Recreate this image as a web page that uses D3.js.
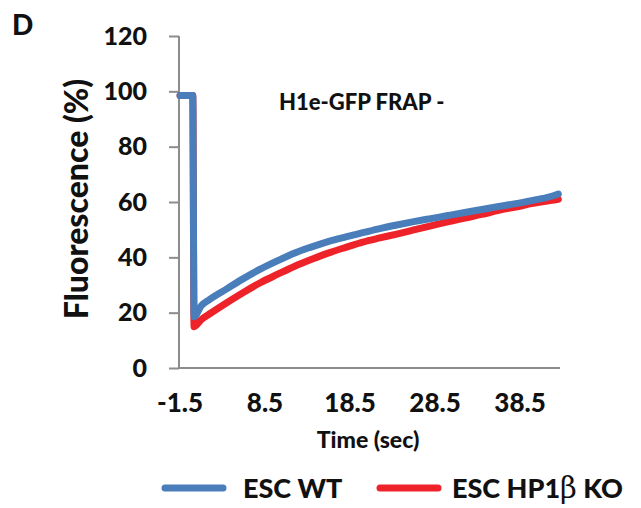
<!DOCTYPE html>
<html>
<head>
<meta charset="utf-8">
<script src="https://cdn.jsdelivr.net/npm/d3@7"></script>
<style>
  body { margin: 0; background: #fff; }
  text { font-family: Lato, "Open Sans", sans-serif; font-weight: 900; fill: #111; }
  .greek { font-family: "DejaVu Serif", "Liberation Serif", serif; font-weight: normal; }
</style>
</head>
<body>
<script>
// size of svg
var fullWidth = 641;
var fullHeight = 508;

// time points (sec)
var times = [-1.5, -1, -0.5, 0, 0.15, 1, 2, 4, 6, 8, 10, 12, 14, 16, 18, 20,
             22, 24, 26, 28, 30, 32, 34, 36, 38, 40, 42, 43];

// fluorescence (%) of the two series
var wtValues = [98.5, 98.5, 98.5, 98.5, 18.5, 22.5, 24.8, 28.6, 32.4, 35.8, 38.8,
                41.6, 43.8, 45.8, 47.4, 48.9, 50.4, 51.7, 52.9, 54, 55.1, 56.2,
                57.3, 58.4, 59.4, 60.6, 61.9, 62.9];
var koValues = [98.5, 98.5, 98.5, 98.5, 14.9, 17.5, 19.6, 23.6, 27.4, 30.9, 33.9,
                36.8, 39.3, 41.6, 43.6, 45.5, 47, 48.4, 49.9, 51.4, 52.8, 54.2,
                55.5, 57, 58.2, 59.5, 60.5, 61];

// axis ticks
var xTicks = [-1.5, 8.5, 18.5, 28.5, 38.5];
var yTicks = [0, 20, 40, 60, 80, 100, 120];

var seriesNames = ["ESC WT", "ESC HP1\u03b2 KO"];
var colors = ["#4a7ebb", "#ee2229"];

var svg = d3.select("body")
            .append("svg")
            .attr("width", fullWidth)
            .attr("height", fullHeight);

// scales
var xScale = d3.scaleLinear()
               .domain([-1.62, 43.2])
               .range([179, 560]);

var yScale = d3.scaleLinear()
               .domain([0, 120])
               .range([368, 36]);

// y axis with gray line and ticks pointing left
var yAxis = svg.append("g")
               .attr("transform", "translate(179,0)")
               .call(d3.axisLeft(yScale).tickValues(yTicks).tickSize(10));
yAxis.select(".domain").attr("stroke", "#8c8c8c").attr("stroke-width", 2)
     .attr("d", "M0," + yScale(120) + "V" + yScale(0));
yAxis.selectAll(".tick line").attr("stroke", "#8c8c8c").attr("stroke-width", 2);
yAxis.selectAll(".tick text")
     .attr("x", -32)
     .style("font-size", "25px")
     .style("font-family", "Lato, sans-serif")
     .style("font-weight", "900")
     .attr("fill", "#111");

// x axis: plain line, labels without ticks
svg.append("line")
   .attr("x1", 179)
   .attr("x2", 560)
   .attr("y1", yScale(0))
   .attr("y2", yScale(0))
   .attr("stroke", "#8c8c8c")
   .attr("stroke-width", 2);

svg.selectAll(".xlabel")
   .data(xTicks)
   .enter()
   .append("text")
   .attr("class", "xlabel")
   .attr("x", function(d) { return xScale(d); })
   .attr("y", 412)
   .attr("text-anchor", "middle")
   .style("font-size", "26px")
   .text(function(d) { return d; });

// lines, red first so blue lies on top
var line = d3.line()
             .x(function(d, i) { return xScale(times[i]); })
             .y(function(d) { return yScale(d); })
             .curve(d3.curveMonotoneX);

[koValues, wtValues].forEach(function(vals, k) {
    svg.append("path")
       .datum(vals)
       .attr("fill", "none")
       .attr("stroke", k == 0 ? colors[1] : colors[0])
       .attr("stroke-width", 7)
       .attr("stroke-linejoin", "round")
       .attr("stroke-linecap", "round")
       .attr("d", line);
});

// panel letter
svg.append("text")
   .attr("x", 12)
   .attr("y", 35)
   .style("font-size", "28px")
   .text("D");

// plot title
svg.append("text")
   .attr("x", 279)
   .attr("y", 110)
   .style("font-size", "22px")
   .text("H1e-GFP FRAP -");

// axis titles
svg.append("text")
   .attr("transform", "translate(88,199) rotate(-90)")
   .attr("text-anchor", "middle")
   .style("font-size", "32px")
   .text("Fluorescence (%)");

svg.append("text")
   .attr("x", 368)
   .attr("y", 448)
   .attr("text-anchor", "middle")
   .style("font-size", "23px")
   .text("Time (sec)");

// legend
var legendX = [165, 380];
var legendText = [243, 452];
[0, 1].forEach(function(i) {
    svg.append("line")
       .attr("x1", legendX[i])
       .attr("x2", legendX[i] + 58)
       .attr("y1", 488)
       .attr("y2", 488)
       .attr("stroke", colors[i])
       .attr("stroke-width", 7)
       .attr("stroke-linecap", "round");
});

svg.append("text")
   .attr("x", legendText[0])
   .attr("y", 498)
   .style("font-size", "27px")
   .text(seriesNames[0]);

// second entry: the beta is drawn in a serif face as in the picture
var koText = svg.append("text")
                .attr("x", legendText[1])
                .attr("y", 498)
                .style("font-size", "27px");
koText.append("tspan").text("ESC HP1");
koText.append("tspan").attr("class", "greek").style("font-size", "29px").text("\u03b2");
koText.append("tspan").text(" KO");
</script>
</body>
</html>
